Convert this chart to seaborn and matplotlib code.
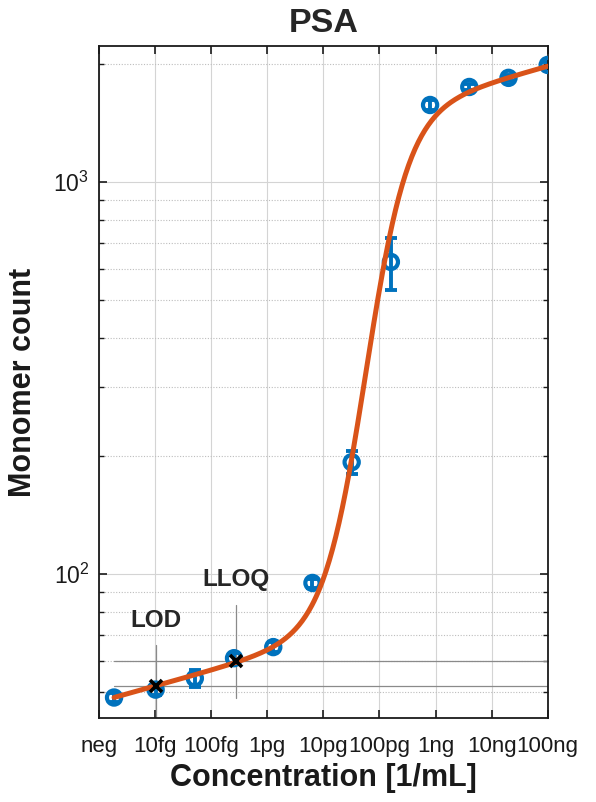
import numpy as np
import matplotlib
matplotlib.use("Agg")
import matplotlib.pyplot as plt
import seaborn as sns
from matplotlib.ticker import LogLocator, NullFormatter, FixedLocator

# concentrations in fg/mL (neg sample drawn just right of the axis start)
conc_fg = [1.86, 10.24, 51.2, 256, 1280, 6400, 32000, 160000, 800000, 4e6, 2e7, 1e8]
counts = [48.5, 50.8, 54.3, 61.1, 65.2, 95.0, 193, 625, 1570, 1745, 1841, 1986]
count_sd = [1.2, 1.5, 2.8, 1.8, 1.8, 2.5, 13, 95, 45, 30, 30, 35]

tick_pos = [1, 10, 100, 1e3, 1e4, 1e5, 1e6, 1e7, 1e8]
tick_labels = ["neg", "10fg", "100fg", "1pg", "10pg", "100pg", "1ng", "10ng", "100ng"]

# log-log sigmoid fit (log10 count vs log10 conc)
fit_base, fit_slope, fit_amp, fit_mid, fit_hill = 1.675, 0.04, 1.30, 4.76, 1.15

lod_conc, lod_level = 10.3, 51.8
lloq_conc, lloq_level = 282, 60.2

BLUE = "#0072BD"
ORANGE = "#D95319"

sns.set_style("ticks")
plt.rcParams["font.family"] = ["Liberation Sans", "DejaVu Sans"]
plt.rcParams["mathtext.default"] = "regular"

fig = plt.figure(figsize=(5.96, 8.02), dpi=100)
ax = fig.add_axes([0.166, 0.1047, 0.753, 0.838])
ax.set_xscale("log")
ax.set_yscale("log")
ax.set_xlim(1, 1e8)
ax.set_ylim(43, 2220)

# grid
ax.xaxis.set_major_locator(FixedLocator(tick_pos))
ax.xaxis.set_minor_locator(FixedLocator([]))
ax.yaxis.set_major_locator(LogLocator(base=10))
ax.yaxis.set_minor_locator(LogLocator(base=10, subs=np.arange(2, 10)))
ax.yaxis.set_minor_formatter(NullFormatter())
ax.grid(True, which="major", axis="both", color="#d4d4d4", lw=0.8, zorder=0)
ax.grid(True, which="minor", axis="y", color="#bdbdbd", lw=0.8, ls=(0, (1, 1.5)), zorder=0)
ax.set_axisbelow(True)

# LOD / LLOQ guide lines
ax.plot([conc_fg[0], 1e8], [lod_level, lod_level], color="#8a8a8a", lw=0.9, zorder=1)
ax.plot([conc_fg[0], 1e8], [lloq_level, lloq_level], color="#8a8a8a", lw=0.9, zorder=1)
ax.plot([lod_conc, lod_conc], [43, 66], color="#8a8a8a", lw=0.9, zorder=1)
ax.plot([lloq_conc, lloq_conc], [48.3, 83.4], color="#8a8a8a", lw=0.9, zorder=1)

# data with error bars
ax.errorbar(conc_fg, counts, yerr=count_sd, fmt="none", ecolor=BLUE,
            elinewidth=2.8, capsize=4.5, capthick=2.8, zorder=2)
df = {"conc": conc_fg, "count": counts}
sns.scatterplot(x="conc", y="count", data=df, ax=ax, s=105, marker="o",
                facecolor="none", edgecolor=BLUE, linewidth=3.0, zorder=3)

# fit curve
xfit = np.logspace(np.log10(conc_fg[0]), 8, 400)
lx = np.log10(xfit)
yfit = 10 ** (fit_base + fit_slope * lx + fit_amp / (1 + 10 ** (fit_hill * (fit_mid - lx))))
sns.lineplot(x=xfit, y=yfit, ax=ax, color=ORANGE, lw=3.6, zorder=4)

# LOD / LLOQ markers
ax.plot([lod_conc, lloq_conc], [lod_level, lloq_level], ls="none", marker="x",
        color="black", ms=9, mew=2.6, zorder=5)
ax.text(lod_conc, 76, "LOD", ha="center", va="center", fontsize=17.5, fontweight="bold")
ax.text(lloq_conc, 97, "LLOQ", ha="center", va="center", fontsize=17.5, fontweight="bold")

ax.set_xticklabels(tick_labels)
ax.tick_params(axis="both", which="both", direction="in", top=True, right=True,
               colors="#1a1a1a", labelcolor="#1a1a1a")
ax.tick_params(axis="x", which="major", length=6, width=1.2, labelsize=16, pad=13)
ax.tick_params(axis="y", which="major", length=6, width=1.2, labelsize=16.5, pad=7)
ax.tick_params(axis="y", which="minor", length=3.5, width=1.0)
for s in ax.spines.values():
    s.set_color("#1a1a1a")
    s.set_linewidth(1.3)
    s.set_visible(True)

ax.set_title("PSA", fontsize=24.5, fontweight="bold", pad=10)
ax.set_xlabel("Concentration [1/mL]", fontsize=22, fontweight="bold", labelpad=4, color="#1a1a1a")
ax.set_ylabel("Monomer count", fontsize=22, fontweight="bold", labelpad=11, color="#1a1a1a")

fig.savefig("out.png", dpi=100)
